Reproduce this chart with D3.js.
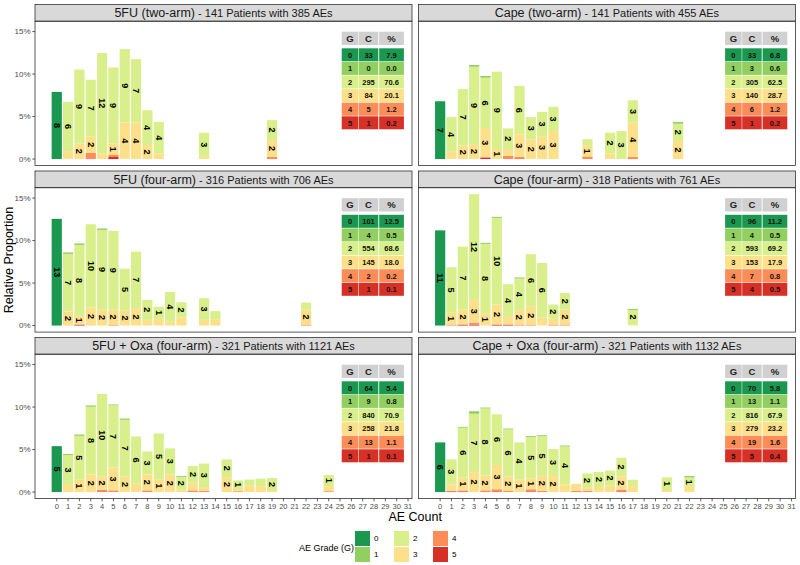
<!DOCTYPE html>
<html><head><meta charset="utf-8">
<script src="https://cdn.jsdelivr.net/npm/d3@7"></script>
<style>body{margin:0;background:#fff} text{font-family:"Liberation Sans",Arial,sans-serif}</style>
</head><body><svg id="c" width="800" height="565"></svg>
<script>
const gradeNames = ["0","1","2","3","4","5"];
const gradeColors = ["#1a9850","#91cf60","#d9ef8b","#fee08b","#fc8d59","#d73027"];
const xTicks = [0,1,2,3,4,5,6,7,8,9,10,11,12,13,14,15,16,17,18,19,20,21,22,23,24,25,26,27,28,29,30,31];
const yTicks = [0,5,10,15];
const panelArms = ["5FU (two-arm)","Cape (two-arm)","5FU (four-arm)","Cape (four-arm)","5FU + Oxa (four-arm)","Cape + Oxa (four-arm)"];
const panelInfo = ["141 Patients with 385 AEs","141 Patients with 455 AEs","316 Patients with 706 AEs","318 Patients with 761 AEs","321 Patients with 1121 AEs","321 Patients with 1132 AEs"];

// rows: [AE count, G0, G1, G2, G3, G4, G5] in % of all counts
const fu2 = [
 [0,7.9,0,0,0,0,0],[1,0,0,5.8,0.94,0,0],[2,0,0,8.7,1.84,0,0],[3,0,0,6.7,1.88,0.75,0],
 [4,0,0,11.8,0.67,0,0],[5,0,0,8.93,1.37,0.24,0.24],[6,0,0,8.63,4.31,0,0],[7,0,0,7.45,4.31,0,0],
 [8,0,0,4.1,1.65,0,0],[9,0,0,3.7,0.67,0,0],[13,0,0,2.83,0.27,0,0],[19,0,0,2.35,1.96,0.27,0]];
const cape2 = [
 [0,6.8,0,0,0,0,0],[1,0,0,4.08,0.86,0,0],[2,0,0,6.63,1.6,0,0],[3,0,0.2,9.1,1.76,0,0],
 [4,0,0.2,5.92,3.45,0,0.2],[5,0,0,9.1,1.18,0,0],[6,0,0,2.43,0.78,0.4,0],[7,0,0,5.73,2.63,0.25,0],
 [8,0,0,2.63,2.31,0,0],[9,0,0,2.86,2.7,0,0],[10,0,0,2.86,3.29,0,0],[13,0,0,0.78,1.25,0.3,0],
 [15,0,0,2.43,0.67,0,0],[16,0,0,3.29,0,0,0],[17,0,0,2.63,4.04,0.25,0],[21,0,0.2,2.04,2.12,0,0]];
const fu4 = [
 [0,12.55,0,0,0,0,0],[1,0,0.17,6.78,1.65,0,0],[2,0,0.17,8.35,1.02,0,0.12],[3,0,0,9.8,2.12,0,0],
 [4,0,0.17,9.33,1.92,0,0],[5,0,0,9.26,1.76,0.12,0],[6,0,0,4.9,1.8,0,0],[7,0,0,6.67,2.04,0,0],
 [8,0,0,2.35,0.67,0,0],[9,0,0,1.45,0.78,0,0],[10,0,0,3.5,0.45,0,0],[11,0,0,1.8,0.94,0,0],
 [13,0,0,2.55,0.67,0,0],[14,0,0,0.95,0.75,0,0],[22,0,0,0.78,1.8,0.12,0]];
const cape4 = [
 [0,11.2,0,0,0,0,0],[1,0,0,5.37,1.37,0.12,0],[2,0,0,7.41,1.76,0,0.12],[3,0,0,12.43,2.67,0.23,0.12],
 [4,0,0.12,8.16,1.45,0,0],[5,0,0.12,10.2,2.35,0,0.12],[6,0,0,3.85,0.9,0,0.12],[7,0,0.12,3.73,1.69,0.12,0],
 [8,0,0,6.2,2.08,0.12,0],[9,0,0,6.43,0.94,0,0],[10,0,0,1.68,0.67,0.12,0],[11,0,0,1.96,1.76,0.12,0],
 [17,0,0.12,1.69,0.15,0,0]];
const fuOxa = [
 [0,5.4,0,0,0,0,0],[1,0,0.12,3.5,0.85,0,0],[2,0,0.15,5.17,1.45,0,0],[3,0,0.15,7.96,2.08,0,0],
 [4,0,0,9.69,1.57,0.2,0.08],[5,0,0.1,7.33,2.67,0.2,0],[6,0,0.15,6.7,1.8,0,0],[7,0,0,5.57,0.98,0,0],
 [8,0,0,2.7,1.88,0.2,0],[9,0,0,5.45,1.45,0,0],[10,0,0,3.06,2.08,0,0],[11,0,0.1,1.5,0.3,0,0],
 [12,0,0,1.96,0.9,0.2,0],[13,0,0,2.78,0.43,0.15,0],[15,0,0,2.08,1.76,0,0],[16,0,0,1.02,0.25,0.1,0],
 [17,0,0,0.7,0.78,0,0],[18,0,0,0.87,0.7,0,0],[19,0,0,1.53,0.12,0,0],[24,0,0,1.3,0.6,0.1,0]];
const capeOxa = [
 [0,5.84,0,0,0,0,0],[1,0,0,2.94,0.75,0.08,0.08],[2,0,0.1,5.88,1.49,0.12,0.08],[3,0,0.3,6.86,2.35,0,0],
 [4,0,0.1,7.88,1.76,0.2,0],[5,0,0,5.96,2.86,0.25,0.08],[6,0,0.1,5.57,1.65,0.15,0],[7,0,0,4.39,1.45,0,0],
 [8,0,0.1,4.86,1.29,0.25,0.08],[9,0,0.1,4.67,1.76,0.15,0],[10,0,0,3.18,1.88,0,0],[11,0,0.1,4.47,0.9,0,0],
 [12,0,0,0,0.82,0.15,0],[13,0,0,1.69,0.35,0.15,0],[14,0,0,1.76,0.59,0,0],[15,0,0,1.76,0.78,0,0],
 [16,0,0,2.19,1.55,0.22,0.08],[17,0,0,0.75,0.7,0,0],[20,0,0,1.49,0.24,0,0],[22,0,0.15,1.14,0.59,0,0]];

// summary tables: counts (C) and percent (%) per grade
const fu2Count = [33,0,295,84,5,1],     fu2Pct = ["7.9","0.0","70.6","20.1","1.2","0.2"];
const cape2Count = [33,3,305,140,6,1],  cape2Pct = ["6.8","0.6","62.5","28.7","1.2","0.2"];
const fu4Count = [101,4,554,145,2,1],   fu4Pct = ["12.5","0.5","68.6","18.0","0.2","0.1"];
const cape4Count = [96,4,593,153,7,4],  cape4Pct = ["11.2","0.5","69.2","17.9","0.8","0.5"];
const fuOxaCount = [64,9,840,258,13,1], fuOxaPct = ["5.4","0.8","70.9","21.8","1.1","0.1"];
const capeOxaCount = [70,13,816,279,19,5], capeOxaPct = ["5.8","1.1","67.9","23.2","1.6","0.4"];

const panelData = [fu2,cape2,fu4,cape4,fuOxa,capeOxa];
const panelCounts = [fu2Count,cape2Count,fu4Count,cape4Count,fuOxaCount,capeOxaCount];
const panelPcts = [fu2Pct,cape2Pct,fu4Pct,cape4Pct,fuOxaPct,capeOxaPct];

const svg = d3.select("#c");
const colX = [35, 418.4], W = 377;
const rowTop = [21.2, 187.7, 354.2], H = 144.4, stripH = 16.7;
const x = d3.scaleLinear().domain([-1.92, 31.35]);
const y = d3.scaleLinear().domain([-0.77, 16.22]);
const stackKeys = [6,5,4,3,2,1]; // columns G5..G0, bottom to top
const stack = d3.stack().keys(stackKeys).value((d,k)=>d[k]);

panelData.forEach((data,pi)=>{
  const col = pi%2, row = Math.floor(pi/2);
  const L = colX[col], T = rowTop[row];
  const xs = x.copy().range([L, L+W]);
  const ys = y.copy().range([T+H, T]);
  const g = svg.append("g");
  g.append("rect").attr("x",L).attr("y",T-stripH).attr("width",W).attr("height",stripH)
    .attr("fill","#d9d9d9").attr("stroke","#333").attr("stroke-width",0.8);
  const st = g.append("text").attr("x",L+W/2).attr("y",T-stripH/2+4.4).attr("text-anchor","middle").attr("fill","#1a1a1a");
  st.append("tspan").attr("font-size",12.5).text(panelArms[pi]);
  st.append("tspan").attr("font-size",11).text(" - "+panelInfo[pi]);
  const series = stack(data);
  const bw = xs(0.45)-xs(-0.45);
  series.forEach(s=>{
    const grade = s.key-1;
    g.append("g").selectAll("rect").data(s.filter(d=>d[1]-d[0]>0)).join("rect")
      .attr("x",d=>xs(d.data[0])-bw/2).attr("width",bw)
      .attr("y",d=>ys(d[1])).attr("height",d=>ys(d[0])-ys(d[1]))
      .attr("fill",gradeColors[grade]);
  });
  series.forEach(s=>{
    g.append("g").selectAll("text").data(s.filter(d=>d[1]-d[0]>=1)).join("text")
      .attr("transform",d=>`translate(${xs(d.data[0])},${ys((d[0]+d[1])/2)}) rotate(90)`)
      .attr("text-anchor","middle").attr("dy","0.35em")
      .attr("font-size",9).attr("font-weight","bold").attr("fill","#000")
      .text(d=>Math.round(d[1]-d[0]));
  });
  g.append("rect").attr("x",L).attr("y",T).attr("width",W).attr("height",H)
    .attr("fill","none").attr("stroke","#333").attr("stroke-width",0.8);
  const R = L+W;
  const cx = [R-70.3, R-53.2, R-32.8], cw = [16.6, 19.5, 24.7];
  const tb = g.append("g");
  ["G","C","%"].forEach((h,i)=>{
    tb.append("rect").attr("x",cx[i]).attr("y",T+10.5).attr("width",cw[i]).attr("height",13.3).attr("fill","#d0d0d0");
    tb.append("text").attr("x",cx[i]+cw[i]/2).attr("y",T+10.5+10).attr("text-anchor","middle")
      .attr("font-size",9.5).attr("font-weight","bold").attr("fill","#222").text(h);
  });
  gradeNames.forEach((gn,r)=>{
    const ry = T+27.1+r*13.6;
    const vals = [gn, panelCounts[pi][r], panelPcts[pi][r]];
    vals.forEach((v,i)=>{
      tb.append("rect").attr("x",cx[i]).attr("y",ry).attr("width",cw[i]).attr("height",13).attr("fill",gradeColors[r]);
      tb.append("text").attr("x",cx[i]+cw[i]/2).attr("y",ry+9.3).attr("text-anchor","middle")
        .attr("font-size",7.5).attr("font-weight","bold").attr("fill","#111").text(v);
    });
  });
  if(col===0){
    yTicks.forEach(t=>{
      g.append("line").attr("x1",L-2.7).attr("x2",L).attr("y1",ys(t)).attr("y2",ys(t)).attr("stroke","#333").attr("stroke-width",0.8);
      g.append("text").attr("x",L-4.5).attr("y",ys(t)).attr("dy","0.35em").attr("text-anchor","end")
        .attr("font-size",8).attr("fill","#4d4d4d").text(t+"%");
    });
  }
  if(row===2){
    xTicks.forEach(t=>{
      g.append("line").attr("x1",xs(t)).attr("x2",xs(t)).attr("y1",T+H).attr("y2",T+H+2.7).attr("stroke","#333").attr("stroke-width",0.8);
      g.append("text").attr("x",xs(t)).attr("y",T+H+10.5).attr("text-anchor","middle")
        .attr("font-size",7.5).attr("fill","#4d4d4d").text(t);
    });
  }
});

svg.append("text").attr("x",(colX[0]+colX[1]+W)/2).attr("y",521).attr("text-anchor","middle")
  .attr("font-size",12.5).attr("fill","#000").text("AE Count");
svg.append("text").attr("transform","translate(13,260) rotate(-90)").attr("text-anchor","middle")
  .attr("font-size",12.5).attr("fill","#000").text("Relative Proportion");

const lg = svg.append("g");
lg.append("text").attr("x",299).attr("y",551).attr("font-size",9).attr("fill","#000").text("AE Grade (G)");
gradeNames.forEach((gn,i)=>{
  const c = Math.floor(i/2), r = i%2;
  const lx = 355 + c*39, ly = 531 + r*16;
  lg.append("rect").attr("x",lx).attr("y",ly).attr("width",15).attr("height",15).attr("fill",gradeColors[i]);
  lg.append("text").attr("x",lx+19).attr("y",ly+7.5).attr("dy","0.35em").attr("font-size",8).attr("fill","#000").text(gn);
});
</script></body></html>
